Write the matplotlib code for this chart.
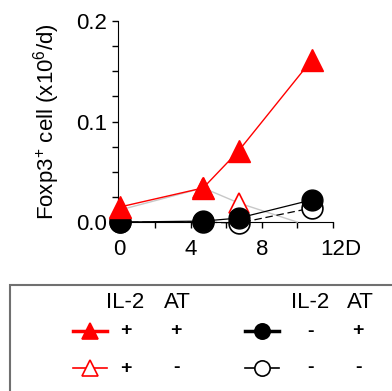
import matplotlib
matplotlib.use('Agg')
import matplotlib.pyplot as plt
from matplotlib.lines import Line2D
from matplotlib.patches import Rectangle

plt.rcParams['font.family'] = ['Liberation Sans', 'DejaVu Sans']
plt.rcParams['mathtext.fontset'] = 'custom'
plt.rcParams['mathtext.rm'] = 'Liberation Sans'
plt.rcParams['mathtext.it'] = 'Liberation Sans'

# IL-2 +, AT +  (filled red triangle)
x_tri_f = [0, 4.7, 6.7, 10.8]
y_tri_f = [0.015, 0.034, 0.071, 0.161]
# IL-2 +, AT -  (open red triangle), last point is where the line meets zero
x_tri_o = [0, 4.7, 6.7, 10.0]
y_tri_o = [0.012, 0.034, 0.019, 0.0]
# IL-2 -, AT +  (filled black circle)
x_cir_f = [0, 4.7, 6.7, 10.8]
y_cir_f = [0.0, 0.001, 0.004, 0.022]
# IL-2 -, AT -  (open circle)
x_cir_o = [0, 4.7, 6.7, 10.8]
y_cir_o = [0.0, 0.0, -0.001, 0.014]

il2 = ['+', '+', '-', '-']
at = ['+', '-', '+', '-']

red = '#ff0000'

fig = plt.figure(figsize=(3.92, 3.91), dpi=100)
ax = fig.add_axes([0.301, 0.432, 0.548, 0.514])

ax.plot(x_tri_o, y_tri_o, color='#c8c8c8', lw=1, marker='^', ms=15, mfc='white',
        mec=red, mew=1.2, markevery=[0, 1, 2], clip_on=False, zorder=3)
ax.plot(x_cir_o, y_cir_o, color='black', lw=0.9, ls=(0, (6, 3)), marker='o', ms=15,
        mfc='white', mec='black', mew=1.2, clip_on=False, zorder=3)
ax.plot(x_cir_f, y_cir_f, color='black', lw=0.9, marker='o', ms=15, mfc='black',
        mec='black', clip_on=False, zorder=4)
ax.plot(x_tri_f, y_tri_f, color=red, lw=1, marker='^', ms=16, mfc=red, mec=red,
        clip_on=False, zorder=5)

ax.set_xlim(-0.1, 12)
ax.set_ylim(0, 0.2)
ax.set_xticks([0, 4, 8, 12])
ax.set_xticks([2, 6, 10], minor=True)
ax.set_yticks([0, 0.1, 0.2])
ax.set_yticklabels(['0.0', '0.1', '0.2'])
ax.set_yticks([0.025, 0.05, 0.075, 0.125, 0.15, 0.175], minor=True)
ax.tick_params(which='both', direction='out', length=4, width=1, labelsize=16)
ax.tick_params(axis='x', pad=8)
ax.tick_params(axis='y', pad=4)
for s in ['top', 'right']:
    ax.spines[s].set_visible(False)
ax.set_ylabel('Foxp3$^{+}$ cell (x10$^{6}$/d)', fontsize=16, labelpad=10)
# unit "D" right after the last tick label, same baseline
ax.annotate('D', xy=(12, 0), xycoords='data', xytext=(8.5, -12), textcoords='offset points',
            fontsize=16, ha='left', va='top', annotation_clip=False)

# legend box at the bottom
fig.add_artist(Rectangle((10 / 392, -0.05), 1.0, 1 - 285 / 391 + 0.05,
                         transform=fig.transFigure, fill=False,
                         edgecolor='#707070', lw=1.5, clip_on=False))

def fx(px):
    return px / 392

def fy(py):
    return 1 - py / 391

for cx in [(125, 177), (310, 360)]:
    fig.text(fx(cx[0]), fy(303), 'IL-2', fontsize=16, ha='center', va='center')
    fig.text(fx(cx[1]), fy(303), 'AT', fontsize=16, ha='center', va='center')

legend_sym = [
    dict(color=red, marker='^', mfc=red, mec=red),
    dict(color=red, marker='^', mfc='white', mec=red),
    dict(color='black', marker='o', mfc='black', mec='black'),
    dict(color='black', marker='o', mfc='white', mec='black'),
]
pos = [(90, 331), (90, 368), (262, 331), (262, 368)]
for i in range(4):
    px, py = pos[i]
    lw = 2.5 if legend_sym[i]['mfc'] != 'white' else 1.2
    fig.add_artist(Line2D([fx(px - 17), fx(px + 17)], [fy(py), fy(py)],
                          transform=fig.transFigure, lw=lw,
                          color=legend_sym[i]['color']))
    fig.add_artist(Line2D([fx(px)], [fy(py)], transform=fig.transFigure,
                          ls='none', marker=legend_sym[i]['marker'], ms=11, mew=1.2,
                          mfc=legend_sym[i]['mfc'], mec=legend_sym[i]['mec']))
    col = 126 if px < 200 else 310
    col2 = 176 if px < 200 else 358
    fig.text(fx(col), fy(py), il2[i], fontsize=14, fontweight='bold', ha='center', va='center')
    fig.text(fx(col2), fy(py), at[i], fontsize=14, fontweight='bold', ha='center', va='center')

plt.savefig('out.png', dpi=100)
